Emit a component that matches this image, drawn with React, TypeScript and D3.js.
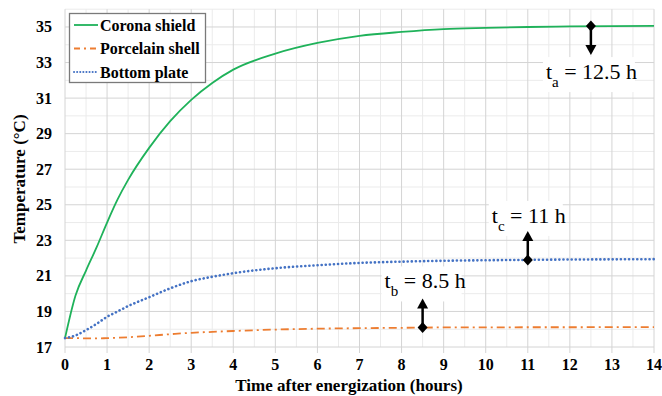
import React, { useLayoutEffect } from "react";
import * as d3 from "d3";

// time after energization (hours)
const hours = [0, 0.25, 0.5, 0.75, 1, 1.25, 1.5, 2, 2.5, 3, 3.5, 4, 5, 6, 7, 8, 9, 10, 11, 12, 13, 14];
const corona = [17.5, 19.9, 21.3, 22.6, 24.0, 25.3, 26.4, 28.2, 29.7, 30.9, 31.85, 32.6, 33.5, 34.1, 34.5, 34.72, 34.88, 34.95, 35.0, 35.03, 35.05, 35.06];
const porcelain = [17.5, 17.5, 17.48, 17.48, 17.5, 17.52, 17.55, 17.63, 17.72, 17.8, 17.85, 17.9, 17.98, 18.03, 18.06, 18.08, 18.1, 18.1, 18.11, 18.11, 18.12, 18.12];
const bottom = [17.5, 17.65, 17.95, 18.3, 18.7, 19.0, 19.3, 19.8, 20.3, 20.7, 20.95, 21.15, 21.43, 21.6, 21.73, 21.8, 21.85, 21.88, 21.9, 21.92, 21.93, 21.94];

const seriesNames = ["Corona shield", "Porcelain shell", "Bottom plate"];
const xTicks = d3.range(0, 15, 1);
const yTicks = [17, 19, 21, 23, 25, 27, 29, 31, 33, 35];

// steady-state annotations
const noteHours = [12.5, 11, 8.5];
const noteTemps = [35.05, 21.9, 18.1];
const noteSubs = ["a", "c", "b"];
const noteTexts = [" = 12.5 h", " = 11 h", " = 8.5 h"];

const FONT = "'Liberation Serif', 'Times New Roman', Times, serif";
const W = 662, H = 396;
const left = 65, right = 654, top = 9.2, bot = 347;

const x = d3.scaleLinear().domain([0, 14]).range([left, right]);
const y = d3.scaleLinear().domain([17, 36]).range([bot, top]);

const styles = [
  { color: "#1fb25a", dash: undefined, width: 1.8, cap: "butt" as const, legendDash: undefined },
  { color: "#ed7d31", dash: "8 4 2 4", width: 1.8, cap: "butt" as const, legendDash: "6 4 2 4" },
  { color: "#4472c4", dash: "0.1 4", width: 2.6, cap: "round" as const, legendDash: "0.1 3" },
];

const lineGen = d3.line<number>().x((_, i) => x(hours[i])).y(d => y(d)).curve(d3.curveMonotoneX);

// label placement relative to the marker: dir 1 = arrow down, -1 = arrow up
const noteLayout = [
  { dir: 1, dx: -45, base: 24, w: 92 },
  { dir: -1, dx: -36, base: -8, w: 74 },
  { dir: -1, dx: -38, base: -10, w: 80 },
];

const App = () => {
  useLayoutEffect(() => {
    document.body.style.margin = "0";
  }, []);

  return (
    <svg width={W} height={H} fontFamily={FONT} style={{ display: "block" }}>
      {/* minor grid */}
      {d3.range(0.5, 14, 1).map(h => (
        <line key={"mx" + h} x1={x(h)} x2={x(h)} y1={top} y2={bot} stroke="#ebebeb" />
      ))}
      {d3.range(18, 37, 2).map(v => (
        <line key={"my" + v} x1={left} x2={right} y1={y(v)} y2={y(v)} stroke="#ebebeb" />
      ))}
      {/* major grid */}
      {xTicks.map(h => (
        <line key={"gx" + h} x1={x(h)} x2={x(h)} y1={top} y2={bot + 6} stroke="#d4d4d4" />
      ))}
      {yTicks.map(v => (
        <line key={"gy" + v} x1={left} x2={right} y1={y(v)} y2={y(v)} stroke="#d4d4d4" />
      ))}

      {/* tick labels */}
      {yTicks.map(v => (
        <text key={"ty" + v} x={52} y={y(v) + 5.5} textAnchor="end" fontFamily={FONT}
          fontWeight="bold" fontSize={16}>{v}</text>
      ))}
      {xTicks.map(h => (
        <text key={"tx" + h} x={x(h)} y={370} textAnchor="middle" fontFamily={FONT}
          fontWeight="bold" fontSize={16}>{h}</text>
      ))}
      <text x={349} y={391} textAnchor="middle" fontFamily={FONT} fontWeight="bold" fontSize={17}>
        Time after energization (hours)
      </text>
      <text transform="translate(25,179) rotate(-90)" textAnchor="middle" fontFamily={FONT}
        fontWeight="bold" fontSize={17}>
        Temperature (°C)
      </text>

      {/* series */}
      {[corona, porcelain, bottom].map((vals, i) => (
        <path key={"s" + i} d={lineGen(vals) || ""} fill="none" stroke={styles[i].color}
          strokeWidth={styles[i].width} strokeDasharray={styles[i].dash} strokeLinecap={styles[i].cap} />
      ))}

      {/* annotations */}
      {noteHours.map((t, i) => {
        const cx = x(t), cy = y(noteTemps[i]);
        const { dir, dx, base, w } = noteLayout[i];
        const tip = cy + dir * 29;
        const baseY = tip + base;
        return (
          <g key={"n" + i}>
            <rect x={cx + dx - 3} y={baseY - 22} width={w} height={35} fill="#fff" />
            <line x1={cx} x2={cx} y1={cy} y2={tip - dir * 8} stroke="#000" strokeWidth={2.5} />
            <path d={`M${cx - 5.5},${tip - dir * 10} L${cx + 5.5},${tip - dir * 10} L${cx},${tip} Z`} fill="#000" />
            <path d={`M${cx},${cy - 5.5} L${cx + 5},${cy} L${cx},${cy + 5.5} L${cx - 5},${cy} Z`} fill="#000" />
            <text x={cx + dx} y={baseY} fontFamily={FONT} fontSize={22}>
              t<tspan fontSize={15} dy={8}>{noteSubs[i]}</tspan>
              <tspan dy={-8}>{noteTexts[i]}</tspan>
            </text>
          </g>
        );
      })}

      {/* legend */}
      <rect x={69.5} y={13.5} width={136} height={69} fill="#fff" stroke="#7a7a7a" strokeWidth={1.3} />
      {seriesNames.map((name, i) => {
        const ly = 25 + i * 23.5;
        return (
          <g key={"l" + i}>
            <line x1={74} x2={98} y1={ly} y2={ly} stroke={styles[i].color} strokeWidth={i === 2 ? 2 : 1.8}
              strokeDasharray={styles[i].legendDash} strokeLinecap={styles[i].cap} />
            <text x={100} y={ly + 5.5} fontFamily={FONT} fontWeight="bold" fontSize={16}>{name}</text>
          </g>
        );
      })}
    </svg>
  );
};

export default App;
